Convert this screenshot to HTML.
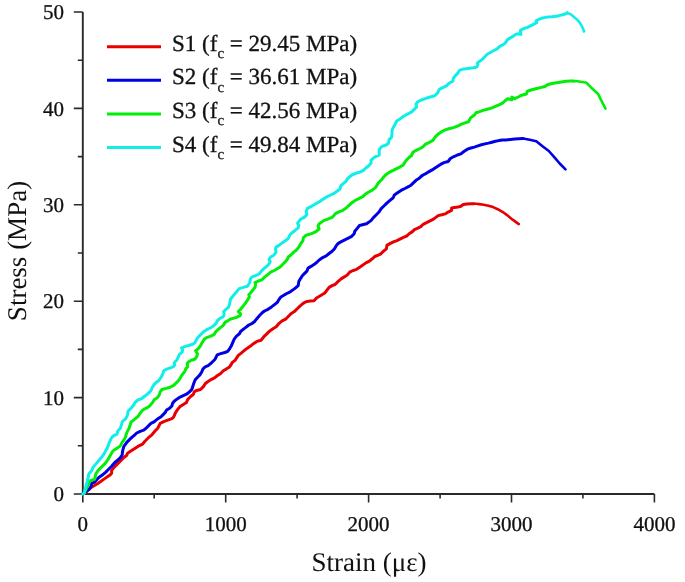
<!DOCTYPE html><html><head><meta charset="utf-8"><style>html,body{margin:0;padding:0;background:#fff;}svg{display:block;will-change:transform}text{text-rendering:geometricPrecision}.b text{stroke:#111;stroke-width:0.3px}</style></head><body>
<svg width="685" height="582" viewBox="0 0 685 582" font-family="Liberation Serif, serif" fill="#111">
<g stroke="#2a2a2a" stroke-width="1.9" fill="none" stroke-linecap="butt">
<path d="M82.8 12.0V494.0H654.4"/>
</g>
<g stroke="#2a2a2a" stroke-width="1.6" fill="none">
<path d="M73.8 494.0H82.8M77.8 445.8H82.8M73.8 397.6H82.8M77.8 349.4H82.8M73.8 301.2H82.8M77.8 253.0H82.8M73.8 204.8H82.8M77.8 156.6H82.8M73.8 108.4H82.8M77.8 60.2H82.8M73.8 12.0H82.8M82.8 494.0V502.5M154.2 494.0V498.5M225.7 494.0V502.5M297.1 494.0V498.5M368.6 494.0V502.5M440.1 494.0V498.5M511.5 494.0V502.5M582.9 494.0V498.5M654.4 494.0V502.5"/>
</g>
<g class="b" font-size="21" fill="#111">
<text x="64" y="501.2" text-anchor="end">0</text>
<text x="64" y="404.8" text-anchor="end">10</text>
<text x="64" y="308.4" text-anchor="end">20</text>
<text x="64" y="212.0" text-anchor="end">30</text>
<text x="64" y="115.6" text-anchor="end">40</text>
<text x="64" y="19.2" text-anchor="end">50</text>
<text x="82.8" y="531.2" text-anchor="middle">0</text>
<text x="225.7" y="531.2" text-anchor="middle">1000</text>
<text x="368.6" y="531.2" text-anchor="middle">2000</text>
<text x="511.5" y="531.2" text-anchor="middle">3000</text>
<text x="654.4" y="531.2" text-anchor="middle">4000</text>
</g>
<text x="369" y="571" font-size="27" text-anchor="middle">Strain (με)</text>
<text transform="translate(25.5 251) rotate(-90)" font-size="27" text-anchor="middle">Stress (MPa)</text>
<g class="b">
<path d="M107 46.7H161" stroke="#e80000" stroke-width="3" fill="none"/>
<text x="172" y="50.7" font-size="23">S1 (f<tspan font-size="15" dy="7.5">c</tspan><tspan dy="-7.5"> = 29.45 MPa)</tspan></text>
<path d="M107 80.3H161" stroke="#0000e4" stroke-width="3" fill="none"/>
<text x="172" y="84.3" font-size="23">S2 (f<tspan font-size="15" dy="7.5">c</tspan><tspan dy="-7.5"> = 36.61 MPa)</tspan></text>
<path d="M107 113.9H161" stroke="#00ee08" stroke-width="3" fill="none"/>
<text x="172" y="117.9" font-size="23">S3 (f<tspan font-size="15" dy="7.5">c</tspan><tspan dy="-7.5"> = 42.56 MPa)</tspan></text>
<path d="M107 147.5H161" stroke="#10eeea" stroke-width="3" fill="none"/>
<text x="172" y="151.5" font-size="23">S4 (f<tspan font-size="15" dy="7.5">c</tspan><tspan dy="-7.5"> = 49.84 MPa)</tspan></text>
</g>
<path d="M82.8,494.0 85.9,492.0 92.3,486.7 98.2,483.2 104.0,479.1 109.9,475.1 111.6,473.3 111.6,470.4 114.5,466.9 118.0,463.4 121.5,459.9 123.9,457.5 126.8,455.2 127.4,453.4 129.7,451.7 133.2,449.4 137.9,446.4 142.6,444.1 144.9,441.2 148.4,437.7 151.9,434.8 154.8,431.3 157.7,428.3 160.2,423.4 163.7,421.6 168.4,419.9 171.9,418.7 173.7,417.0 175.4,412.9 177.7,409.4 180.1,406.5 186.5,402.4 187.7,399.5 190.6,396.5 193.5,394.2 194.1,391.9 195.8,390.7 200.5,389.5 203.4,386.6 205.2,383.7 208.1,381.4 211.0,379.6 214.5,377.9 217.5,375.5 220.4,373.8 223.3,370.8 226.2,369.1 229.1,367.3 230.9,365.0 232.1,362.7 235.0,360.3 238.3,355.4 241.2,353.1 244.1,350.7 247.0,348.4 250.5,346.1 253.4,343.7 256.9,341.4 261.0,340.2 263.9,336.7 266.3,334.4 269.8,330.9 273.3,328.5 276.2,326.8 279.1,323.3 282.1,320.9 285.6,319.2 288.5,316.3 291.4,313.4 294.3,311.6 297.2,308.7 300.2,305.8 303.1,303.4 306.0,301.7 310.1,301.1 314.0,300.8 316.5,298.0 320.7,295.5 324.8,293.0 329.1,287.4 332.1,285.6 335.0,284.5 337.9,281.6 341.4,278.6 344.3,276.9 347.2,275.1 349.6,272.2 353.1,270.5 356.6,269.3 360.1,267.0 365.9,262.9 369.4,261.1 372.3,258.8 374.7,256.5 377.6,255.3 380.5,254.1 383.4,251.2 386.4,248.9 386.9,245.4 389.9,243.6 393.4,241.9 396.9,240.7 400.4,238.9 403.9,237.2 406.8,236.0 409.1,233.7 412.1,231.9 414.4,229.6 417.3,228.4 420.8,226.7 423.1,224.3 433.5,219.1 435.8,217.4 438.2,215.6 441.7,214.8 445.2,213.9 448.1,212.1 451.6,210.4 451.6,208.0 454.5,207.4 458.0,207.1 460.9,206.3 463.3,204.5 466.8,203.9 470.9,203.7 473.8,203.7" stroke="#e80000" stroke-width="3.0" fill="none" stroke-linejoin="round" stroke-linecap="round"/>
<path d="M473.8,203.7 476.5,203.8 479.1,204.1 483.7,204.8 488.4,205.7 493.1,207.1 497.7,209.2 502.4,211.8 507.1,215.1 511.4,218.8 515.0,221.4 518.8,224.1" stroke="#e80000" stroke-width="2.6" fill="none" stroke-linejoin="round" stroke-linecap="round"/>
<path d="M82.8,494.0 85.9,491.4 89.4,489.1 91.2,486.1 91.8,483.2 94.7,482.1 98.8,477.4 102.3,475.1 105.8,472.1 108.1,469.8 111.6,466.3 115.1,462.2 118.0,459.9 120.4,457.5 122.1,455.2 122.7,450.5 123.9,446.4 126.8,442.4 129.7,439.4 132.1,437.1 134.4,435.3 136.7,433.0 140.2,431.3 143.7,430.1 146.1,428.3 150.9,423.4 154.4,421.6 157.9,418.7 161.4,416.4 164.9,412.9 166.6,410.0 169.6,408.2 171.9,405.9 172.5,403.5 174.2,401.2 177.2,398.9 180.1,397.1 186.5,394.2 189.4,391.9 191.8,389.5 192.9,386.0 194.1,382.5 195.3,379.6 197.6,377.3 199.9,374.9 201.7,372.0 202.9,369.1 205.2,366.8 208.1,365.6 210.4,363.8 212.8,361.5 215.1,359.2 217.2,354.8 220.7,353.6 224.8,352.5 227.7,351.3 229.5,349.0 231.2,346.1 234.2,339.1 236.5,336.1 239.4,333.8 240.6,331.5 243.5,329.1 245.8,327.4 248.8,325.0 252.3,323.3 254.6,321.5 256.4,319.2 259.3,315.7 262.2,312.8 264.5,311.0 268.0,309.3 271.5,306.9 274.5,304.6 277.4,302.3 279.1,299.3 280.9,297.0 283.8,295.3 286.7,293.5 290.2,291.8 294.7,288.6 298.2,285.6 298.8,281.6 300.5,278.6 302.3,275.7 304.6,273.4 306.9,271.1 308.1,268.1 311.0,266.4 313.9,264.6 316.9,262.3 319.2,260.0 322.7,257.6 326.2,255.9 329.1,253.5 332.1,251.2 334.4,248.9 336.1,245.9 337.9,243.6 340.8,241.9 344.3,240.1 347.8,238.4 351.3,236.6 354.2,233.7 354.8,231.3 357.2,228.4 359.5,225.5 366.5,223.8 371.0,220.6 373.4,217.6 376.3,214.7 379.2,211.8 380.9,208.9 383.9,206.0 386.8,203.1 390.3,200.1 393.2,197.8 394.4,194.9 397.9,192.5 401.4,190.2 404.9,188.5 408.4,186.7 411.3,184.9 413.6,182.6 416.0,180.3 418.9,178.5 420.7,176.8 423.0,175.0 425.3,173.9 428.2,172.1 433.5,169.1 437.0,166.7 440.5,164.4 444.0,162.6 448.1,161.5 450.4,158.5 453.4,156.8 457.4,155.0 460.9,153.9 463.9,151.5 467.4,149.2 470.9,148.0 474.4,147.1 477.9,145.9 481.4,144.8 484.9,143.9 488.4,143.1 491.9,142.2 495.4,141.3 498.9,140.6 502.4,140.1 505.9,139.9 514.7,139.0 523.0,138.5" stroke="#0000e4" stroke-width="3.0" fill="none" stroke-linejoin="round" stroke-linecap="round"/>
<path d="M523.0,138.5 523.0,138.5 529.7,139.8 536.3,141.3 542.2,146.0 548.8,151.0 554.7,157.7 559.7,163.5 565.5,169.3" stroke="#0000e4" stroke-width="2.6" fill="none" stroke-linejoin="round" stroke-linecap="round"/>
<path d="M82.8,494.0 84.2,493.2 90.0,480.9 94.7,479.1 95.8,473.9 98.2,470.4 101.7,466.9 105.2,463.4 108.1,459.3 110.4,455.2 112.8,451.1 115.1,449.4 118.0,447.6 120.4,445.9 122.1,442.4 123.9,440.0 125.6,437.1 126.2,434.2 127.4,431.3 129.1,428.3 131.0,422.2 134.5,419.3 138.0,416.4 140.4,412.9 142.7,410.0 146.2,408.2 149.7,405.9 152.6,402.4 154.4,399.5 157.3,397.7 159.1,395.4 160.2,391.9 162.0,389.5 166.1,388.4 170.2,387.2 173.7,385.4 176.0,383.1 178.3,380.8 180.1,378.4 181.2,376.1 184.8,371.4 185.9,368.5 187.7,366.8 187.1,363.8 188.3,362.1 191.2,360.3 194.7,359.2 196.8,356.6 197.4,353.6 195.6,350.7 198.0,349.0 200.3,346.1 202.1,342.6 204.4,339.1 207.3,337.3 210.8,336.1 214.3,334.4 215.5,332.0 217.8,329.7 220.7,327.4 223.1,325.6 224.2,323.9 225.4,322.1 227.7,320.9 230.1,319.2 236.5,317.4 240.0,315.7 240.6,313.9 238.3,311.6 240.6,309.3 242.9,306.4 245.3,303.4 247.6,299.9 249.4,297.0 248.8,294.7 251.1,292.3 255.0,287.4 255.6,283.9 255.0,282.7 258.5,281.0 262.0,279.8 264.9,276.9 267.8,274.6 270.7,272.2 274.2,270.5 277.2,268.7 280.1,267.0 285.3,261.7 287.7,258.8 288.3,257.0 290.6,255.3 293.5,252.4 296.4,250.0 298.8,247.1 300.5,244.2 302.9,240.7 303.4,237.8 305.8,235.4 309.3,234.3 312.8,233.1 316.3,231.3 319.2,229.0 318.0,226.1 319.2,223.8 323.7,220.6 328.4,218.8 332.5,217.1 335.4,213.6 338.9,211.8 342.4,210.6 345.9,208.3 348.2,206.0 352.9,201.9 355.8,200.1 359.3,198.4 362.8,196.6 365.2,194.3 368.7,192.0 372.2,190.2 375.7,187.3 377.4,184.4 379.2,182.0 381.5,179.7 383.9,176.8 386.2,174.4 389.7,172.1 393.2,170.4 396.7,168.6 400.2,166.8 403.1,165.1 404.9,162.2 406.6,159.8 409.0,157.5 411.3,155.8 413.1,152.0 416.6,150.2 420.1,148.5 423.0,146.7 425.3,144.4 427.7,143.2 432.9,140.4 435.3,136.9 438.2,134.0 441.7,131.7 445.2,129.9 448.7,128.8 453.4,127.6 458.0,125.8 461.5,124.1 465.0,122.9 468.5,121.8 470.9,117.4 474.4,115.1 476.1,112.7 479.6,111.6 483.1,110.4 487.2,109.2 491.3,108.1 495.4,106.3 499.5,104.6 503.0,102.8 505.3,100.5 507.7,98.7 511.8,99.9 511.8,97.0 514.7,98.7 518.2,97.0 521.7,95.2 526.4,94.0 527.5,91.1 531.0,90.0 535.7,88.8 540.4,87.6 545.0,86.5 547.4,84.7 552.0,83.5 556.7,82.7 561.4,82.0 566.1,81.2 570.7,81.1 573.1,81.1" stroke="#00ee08" stroke-width="3.0" fill="none" stroke-linejoin="round" stroke-linecap="round"/>
<path d="M573.1,81.1 575.7,81.0 580.7,81.7 586.5,82.8 591.3,87.7 597.9,93.7 601.5,100.9 605.5,108.7" stroke="#00ee08" stroke-width="2.6" fill="none" stroke-linejoin="round" stroke-linecap="round"/>
<path d="M82.8,494.0 84.2,493.2 85.9,486.7 87.7,479.7 88.8,473.9 91.8,470.4 92.9,467.5 96.4,463.4 98.8,460.5 102.3,456.4 104.6,452.9 106.4,449.4 107.5,447.6 109.3,442.4 111.6,437.7 113.4,435.9 116.9,434.2 118.0,430.7 120.4,428.3 122.3,421.6 125.8,418.7 127.5,415.2 128.1,411.1 131.0,408.2 133.9,404.7 135.1,402.4 138.0,400.0 142.1,398.3 145.0,396.0 148.0,393.6 150.9,390.7 152.1,387.8 153.8,384.9 156.1,382.5 159.1,380.2 161.4,376.7 163.1,373.2 163.7,370.8 166.6,369.1 170.2,367.9 173.1,366.8 174.8,365.0 174.2,362.7 176.6,360.3 179.3,354.8 182.2,351.9 182.8,349.6 181.6,347.8 184.5,346.6 188.6,345.5 192.7,344.3 195.0,342.6 196.2,340.2 198.0,337.3 200.9,334.4 203.2,332.0 206.7,329.7 210.2,328.0 213.1,326.2 216.1,323.3 217.2,320.9 219.6,318.6 223.1,316.9 224.2,314.5 223.7,311.6 226.0,309.3 228.3,307.5 229.5,304.6 230.1,301.1 230.7,298.8 239.2,288.6 243.3,287.4 247.4,286.2 249.7,282.7 250.3,279.2 252.1,276.9 255.6,275.7 259.1,274.0 261.4,271.1 263.7,268.7 266.6,266.4 269.0,264.0 270.2,261.7 269.0,259.4 270.7,257.0 273.7,255.3 276.0,252.4 275.4,249.4 276.0,247.1 278.9,245.4 281.2,243.6 285.3,240.7 288.3,238.4 290.0,234.8 292.3,232.5 295.3,230.2 298.2,227.8 298.8,225.5 297.6,223.2 300.4,219.4 304.5,217.1 306.8,214.7 306.2,211.2 307.4,208.3 310.9,206.6 315.0,204.2 319.1,201.9 322.6,199.5 326.1,197.2 329.6,195.5 333.6,193.7 336.6,191.4 340.1,189.0 340.7,186.1 343.0,183.8 345.9,181.4 347.7,178.5 351.8,175.0 355.8,173.3 359.9,172.1 363.4,170.4 365.8,168.0 368.7,165.7 371.0,163.3 371.0,160.4 373.4,158.1 376.3,156.3 379.2,155.2 379.2,149.6 381.5,146.7 386.2,145.0 388.5,143.2 389.1,139.7 391.5,137.4 392.0,133.9 392.0,130.4 393.2,127.5 395.0,124.5 396.7,121.0 399.6,119.3 402.6,116.9 405.5,115.2 409.0,113.4 411.9,111.7 414.2,109.4 416.6,107.0 416.0,104.1 417.7,101.8 421.2,100.0 424.7,98.8 427.7,97.7 434.7,95.8 437.6,92.9 439.3,89.4 442.8,87.6 446.4,85.9 448.7,83.5 452.8,81.2 453.4,78.3 455.1,75.9 457.4,73.6 459.8,70.1 463.9,68.9 468.5,68.4 473.2,67.8 476.7,67.2 477.9,64.8 477.3,63.1 479.6,61.3 482.0,59.6 484.3,57.3 487.2,54.3 493.5,50.7 497.0,49.0 499.3,46.6 502.8,44.9 505.2,43.1 507.5,39.6 510.4,37.9 513.4,36.1 515.7,34.4 518.0,33.8 520.9,34.4 520.4,30.3 523.9,28.5 527.4,27.4 530.9,25.6 534.4,23.9 536.7,22.7 536.1,20.9 539.1,19.2 542.6,18.0 547.2,17.1 551.9,16.8 556.6,16.3 560.1,15.4 563.6,14.5 566.5,13.3 567.3,12.9" stroke="#10eeea" stroke-width="3.0" fill="none" stroke-linejoin="round" stroke-linecap="round"/>
<path d="M567.3,12.9 570.7,14.3 574.0,17.0 577.3,19.8 579.8,22.7 581.5,25.7 583.2,29.0 584.0,31.5" stroke="#10eeea" stroke-width="2.6" fill="none" stroke-linejoin="round" stroke-linecap="round"/>
</svg></body></html>
